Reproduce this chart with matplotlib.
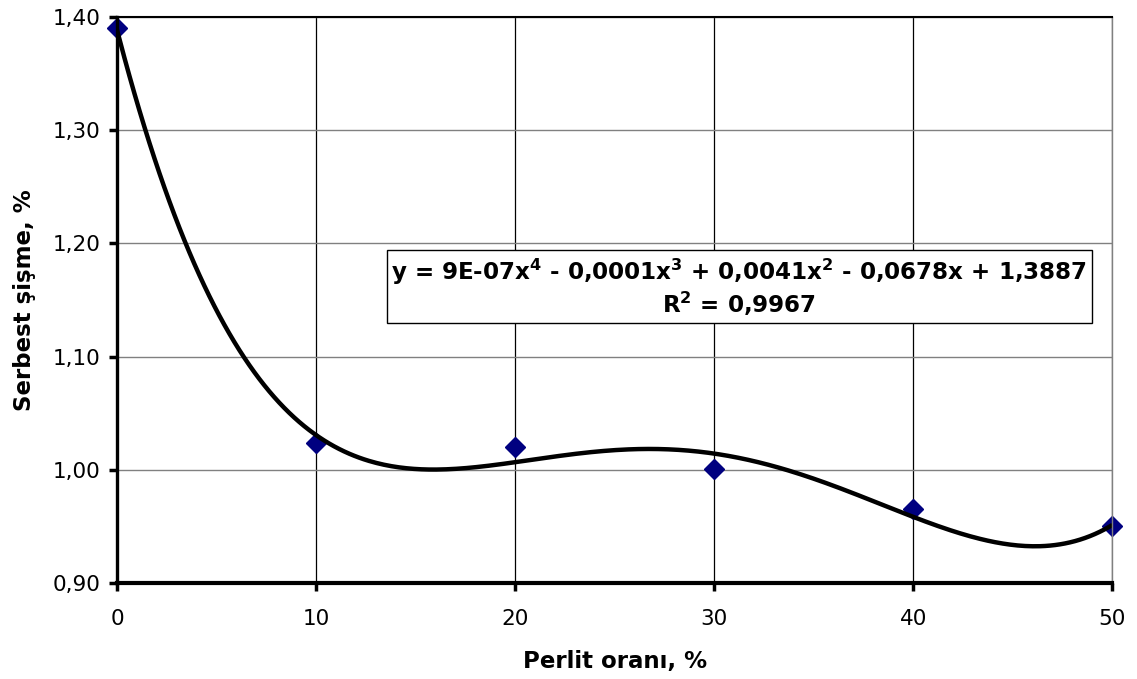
import numpy as np
import matplotlib
matplotlib.use("Agg")
import matplotlib.pyplot as plt

# Measured free swell versus perlite content
perlit = [0, 10, 20, 30, 40, 50]
sisme = [1.390, 1.024, 1.020, 1.001, 0.965, 0.950]

x_ticks = [0, 10, 20, 30, 40, 50]
y_ticks = [0.90, 1.00, 1.10, 1.20, 1.30, 1.40]
y_tick_labels = ["0,90", "1,00", "1,10", "1,20", "1,30", "1,40"]

equation = (r"y = 9E-07x$^{\mathbf{4}}$ - 0,0001x$^{\mathbf{3}}$ + 0,0041x$^{\mathbf{2}}$"
            r" - 0,0678x + 1,3887" "\n" r"R$^{\mathbf{2}}$ = 0,9967")

plt.rcParams["font.family"] = ["DejaVu Sans"]
plt.rcParams["mathtext.fontset"] = "dejavusans"

fig = plt.figure(figsize=(11.37, 6.79), dpi=100)
ax = fig.add_axes([0.1029, 0.1414, 0.8755, 0.8336])

# 4th order polynomial trend line through the measurements
coef = np.polyfit(perlit, sisme, 4)
xs = np.linspace(min(perlit), max(perlit), 400)
ax.plot(xs, np.polyval(coef, xs), color="black", lw=3.2, zorder=4,
        solid_capstyle="butt")
ax.plot(perlit, sisme, linestyle="none", marker="D", markersize=10,
        color="#000080", zorder=3, clip_on=False)

ax.set_xlim(0, 50)
ax.set_ylim(0.90, 1.40)
ax.set_xticks(x_ticks)
ax.set_xticklabels([str(v) for v in x_ticks])
ax.set_yticks(y_ticks)
ax.set_yticklabels(y_tick_labels)

for v in x_ticks[1:]:
    ax.axvline(v, color="black", lw=0.9, zorder=1)
for v in y_ticks[1:]:
    ax.axhline(v, color="#808080", lw=1.0, zorder=1)

ax.spines["left"].set_linewidth(2.4)
ax.spines["bottom"].set_linewidth(3.0)
ax.spines["top"].set_linewidth(1.5)
ax.spines["top"].set_color("black")
ax.spines["right"].set_linewidth(1.0)
ax.spines["right"].set_color("#808080")
for s in ax.spines.values():
    s.set_zorder(5)

ax.tick_params(axis="both", direction="out", length=6, width=2.5,
               labelsize=15.5, colors="black")
ax.tick_params(axis="x", pad=13)
ax.tick_params(axis="y", pad=6)

ax.set_xlabel("Perlit oranı, %", fontsize=16.5, fontweight="bold", labelpad=15)
ax.set_ylabel("Serbest şişme, %", fontsize=16.5, fontweight="bold", labelpad=12)

ax.text(31.25, 1.161, equation, fontsize=16.6, fontweight="bold",
        ha="center", va="center", linespacing=1.15, zorder=6,
        bbox=dict(boxstyle="square,pad=0.2", facecolor="white",
                  edgecolor="black", linewidth=1.0))

fig.savefig("out.png", dpi=100, facecolor="white")
